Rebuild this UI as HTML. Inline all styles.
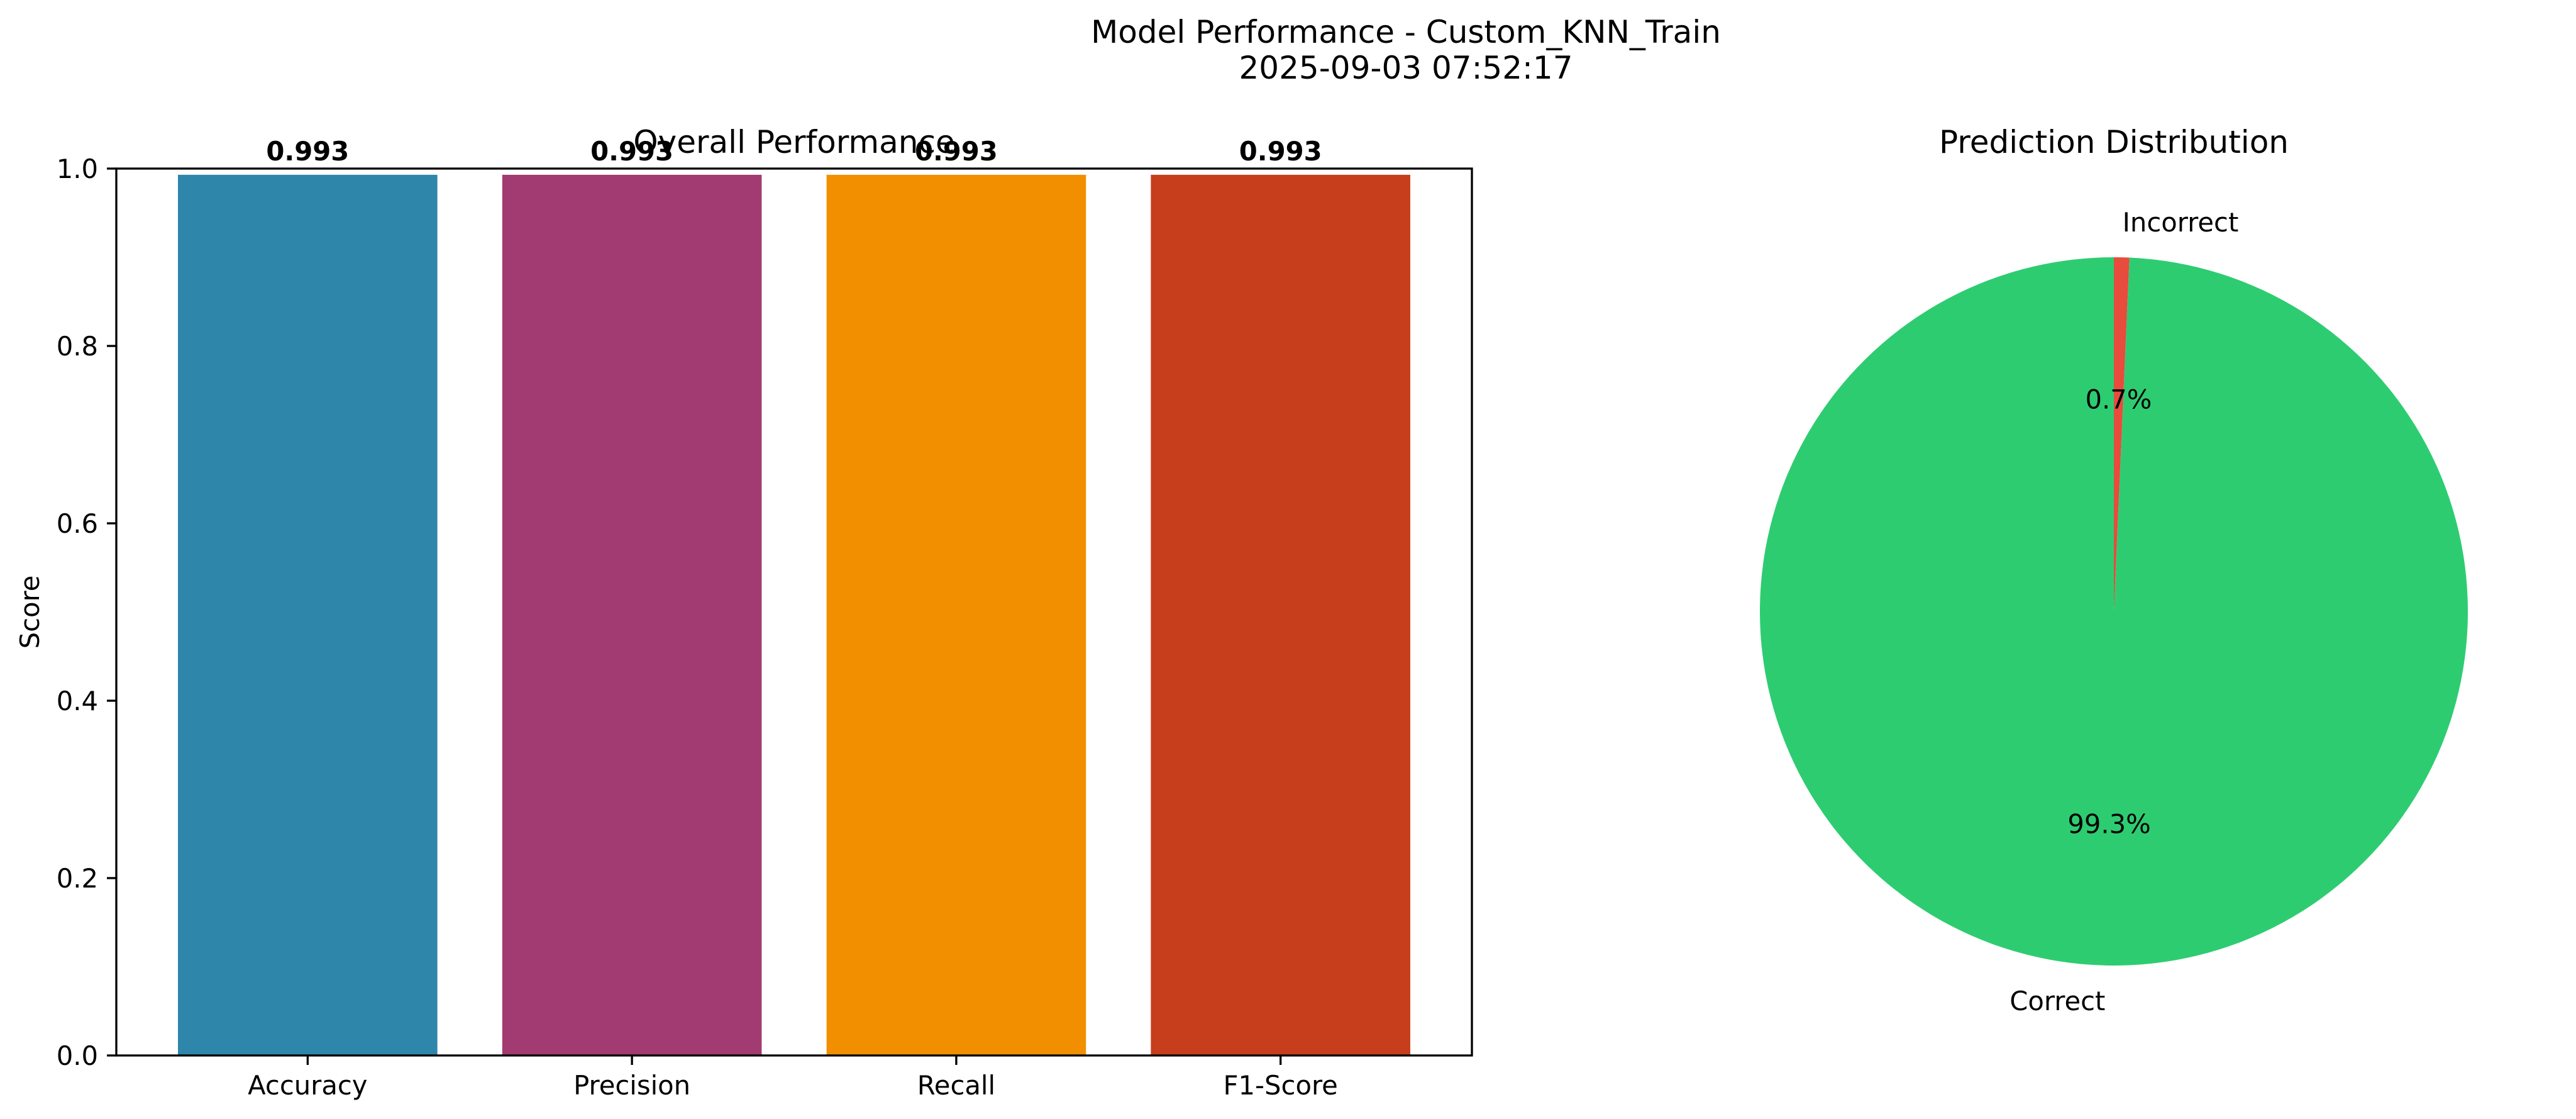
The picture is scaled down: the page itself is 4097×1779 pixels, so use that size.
<!DOCTYPE html>
<html><head><meta charset="utf-8"><style>
html,body{margin:0;padding:0;background:#fff;}
svg{display:block;font-family:"DejaVu Sans","Liberation Sans",sans-serif;}
</style></head><body>
<svg id="fig" width="4097" height="1779" viewBox="0 0 4097 1779" xmlns="http://www.w3.org/2000/svg">
<rect width="4097" height="1779" fill="#fff"/>
<text x="2236" y="68" font-size="50" text-anchor="middle">Model Performance - Custom_KNN_Train</text>
<text x="2236" y="125" font-size="50" text-anchor="middle">2025-09-03 07:52:17</text>
<g id="bars"></g>
<g id="pie"></g>
</svg>
<script>
const categories = ["Accuracy","Precision","Recall","F1-Score"];
const scores = [0.993,0.993,0.993,0.993];
const barLabels = ["0.993","0.993","0.993","0.993"];
const yTicks = [0.0,0.2,0.4,0.6,0.8,1.0];
const yTickLabels = ["0.0","0.2","0.4","0.6","0.8","1.0"];
const pieLabels = ["Correct","Incorrect"];
const pieValues = [99.3,0.7];
const piePctLabels = ["99.3%","0.7%"];

const NS="http://www.w3.org/2000/svg";
function mk(tag,attrs,parent,text){const e=document.createElementNS(NS,tag);for(const k in attrs)e.setAttribute(k,attrs[k]);if(text!==undefined)e.textContent=text;parent.appendChild(e);return e;}

// Bar chart
const bg=document.getElementById('bars');
const L=185,R=2341,T=268,B=1678;
const xmin=-0.59,xmax=3.59;
const xS=v=>L+(v-xmin)/(xmax-xmin)*(R-L);
const yS=v=>B-v*(B-T);
const colors=["#2E86AB","#A23B72","#F18F01","#C73E1D"];
categories.forEach((c,i)=>{
  const x0=xS(i-0.4),x1=xS(i+0.4);
  const r=mk('rect',{x:x0,y:yS(scores[i]),width:x1-x0,height:yS(0)-yS(scores[i]),fill:colors[i]},bg);
  
  
  const t=mk('text',{x:xS(i),y:yS(scores[i])-23,'font-size':41.7,'font-weight':'bold','text-anchor':'middle'},bg,barLabels[i]);
  
  
  const tk=mk('line',{x1:xS(i),x2:xS(i),y1:B,y2:B+15,stroke:'#000','stroke-width':3.3},bg);
  
  
  const tl=mk('text',{x:xS(i),y:1740,'font-size':41.7,'text-anchor':'middle'},bg,c);
  
  
});
yTicks.forEach((v,i)=>{
  const tk=mk('line',{x1:L-15,x2:L,y1:yS(v),y2:yS(v),stroke:'#000','stroke-width':3.3},bg);
  
  
  const tl=mk('text',{x:L-29,y:yS(v)+15,'font-size':41.7,'text-anchor':'end'},bg,yTickLabels[i]);
  
  
});
const fr=mk('rect',{x:L,y:T,width:R-L,height:B-T,fill:'none',stroke:'#000','stroke-width':3.3},bg);


const yl=mk('text',{x:0,y:0,'font-size':41.7,'text-anchor':'middle',transform:'translate(62,'+((T+B)/2)+') rotate(-90)'},bg,'Score');


const bt=mk('text',{x:(L+R)/2,y:243,'font-size':50,'text-anchor':'middle'},bg,'Overall Performance');



// Pie chart
const pg=document.getElementById('pie');
const cx=3362,cy=972,rad=563;
const pieColors=["#2ECC71","#E74C3C"];
const total=pieValues.reduce((a,b)=>a+b,0);
let ang=90;
pieValues.forEach((v,i)=>{
  const sweep=v/total*360;
  const a0=ang*Math.PI/180,a1=(ang+sweep)*Math.PI/180;
  const x0=cx+rad*Math.cos(a0),y0=cy-rad*Math.sin(a0);
  const x1=cx+rad*Math.cos(a1),y1=cy-rad*Math.sin(a1);
  const large=sweep>180?1:0;
  const p=mk('path',{d:`M${cx},${cy} L${x0},${y0} A${rad},${rad} 0 ${large} 0 ${x1},${y1} Z`,fill:pieColors[i]},pg);
  
  
  const mid=(ang+sweep/2)*Math.PI/180;
  const lx=cx+1.1*rad*Math.cos(mid),ly=cy-1.1*rad*Math.sin(mid);
  const lt=mk('text',{x:lx,y:ly+15,'font-size':41.7,'text-anchor':Math.cos(mid)>=0?'start':'end'},pg,pieLabels[i]);
  
  
  const px=cx+0.6*rad*Math.cos(mid),py=cy-0.6*rad*Math.sin(mid);
  const pt=mk('text',{x:px,y:py+15,'font-size':41.7,'text-anchor':'middle'},pg,piePctLabels[i]);
  
  
  ang+=sweep;
});
const ptl=mk('text',{x:cx,y:243,'font-size':50,'text-anchor':'middle'},pg,'Prediction Distribution');


</script>
</body></html>
